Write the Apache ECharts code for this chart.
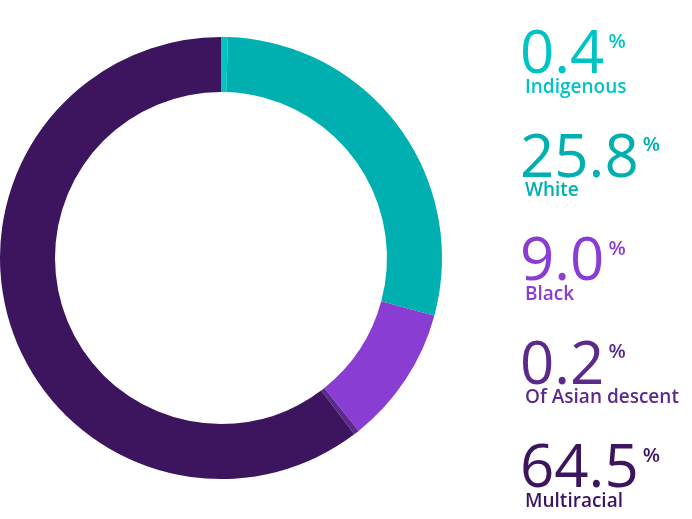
<!DOCTYPE html><html><head><meta charset="utf-8">
<script src="https://cdn.jsdelivr.net/npm/echarts@6/dist/echarts.min.js"></script>
<style>html,body{margin:0;padding:0;background:#fff}#c{width:692px;height:519px}</style></head><body><div id="c"></div>
<script>
const categories=["Indigenous","White","Black","Of Asian descent","Multiracial"];
const labelValues=[0.4,25.8,9.0,0.2,64.5];
// slice sizes as drawn in the reference ring
const sliceValues=[0.5,28.7,10.1,0.4,60.3];
const colors=["#00c4c4","#00b0b0","#8a3dd2","#5b2a8c","#3c155e"];
const chart=echarts.init(document.getElementById('c'));
const ctx=document.createElement('canvas').getContext('2d');
const numFont='60px "Open Sans"';
ctx.font=numFont;
const graphic=[];
categories.forEach((c,i)=>{
  const y=26+i*103.5;
  const t=labelValues[i].toFixed(1);
  const w=ctx.measureText(t).width;
  graphic.push({type:'text',left:520,top:y,style:{text:t,font:numFont,fill:colors[i]}});
  graphic.push({type:'text',left:522+w+2,top:y+6,style:{text:'%',font:'600 20px "Open Sans"',fill:colors[i]}});
  graphic.push({type:'text',left:525,top:y+52,style:{text:c,font:'600 19px "Open Sans"',fill:colors[i]}});
});
chart.setOption({
  animation:false,
  series:[{type:'pie',center:[221,258],radius:[166,221],startAngle:90,clockwise:true,label:{show:false},labelLine:{show:false},
    data:categories.map((c,i)=>({name:c,value:sliceValues[i],itemStyle:{color:colors[i]}}))}],
  graphic
});
</script></body></html>
